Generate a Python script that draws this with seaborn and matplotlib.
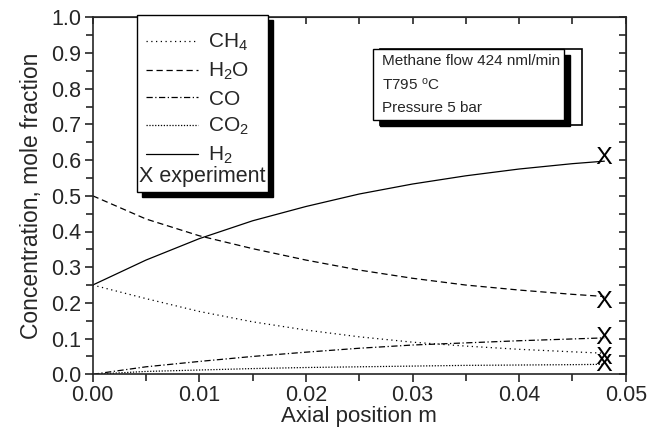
import matplotlib
matplotlib.use("Agg")
import matplotlib.pyplot as plt
import seaborn as sns
import pandas as pd
from matplotlib.patches import Rectangle
from matplotlib.ticker import MultipleLocator

# Values
position = [0.0, 0.005, 0.01, 0.015, 0.02, 0.025, 0.03, 0.035, 0.04, 0.045, 0.048]
ch4 = [0.25, 0.212, 0.176, 0.147, 0.124, 0.105, 0.090, 0.079, 0.070, 0.063, 0.059]
h2o = [0.50, 0.435, 0.388, 0.352, 0.320, 0.292, 0.269, 0.250, 0.236, 0.224, 0.218]
co = [0.0, 0.021, 0.036, 0.050, 0.062, 0.073, 0.082, 0.088, 0.094, 0.099, 0.102]
co2 = [0.0, 0.008, 0.012, 0.016, 0.019, 0.021, 0.023, 0.025, 0.026, 0.027, 0.028]
h2 = [0.25, 0.320, 0.380, 0.430, 0.470, 0.505, 0.533, 0.556, 0.575, 0.590, 0.597]
species = ["CH4", "H2O", "CO", "CO2", "H2"]
labels = ["CH$_4$", "H$_2$O", "CO", "CO$_2$", "H$_2$"]
exp_position = [0.048, 0.048, 0.048, 0.048, 0.048]
exp_value = [0.054, 0.21, 0.11, 0.035, 0.614]

sns.set_style("ticks")
plt.rcParams["font.family"] = ["Liberation Sans", "DejaVu Sans"]
plt.rcParams["mathtext.fontset"] = "custom"
plt.rcParams["mathtext.rm"] = "Liberation Sans"
plt.rcParams["mathtext.it"] = "Liberation Sans"

W, H = 661, 430
def px(x, y):
    return (x / W, 1 - y / H)

# long format for seaborn
series = {"CH4": ch4, "H2O": h2o, "CO": co, "CO2": co2, "H2": h2}
df = pd.concat([pd.DataFrame({"x": position, "y": v, "species": k}) for k, v in series.items()])
dashes = {"CH4": (1, 2.8), "H2O": (5, 3), "CO": (5, 2, 1, 2), "CO2": (1, 1.3), "H2": ""}

fig = plt.figure(figsize=(6.61, 4.30), dpi=100)
ax = fig.add_axes([92.7 / W, 1 - 374.3 / H, 533 / W, 357 / H])

sns.lineplot(data=df, x="x", y="y", style="species", dashes=dashes, color="black",
             linewidth=0.9, ax=ax, legend=False, style_order=species)
sns.scatterplot(x=exp_position, y=exp_value, marker=r"$\mathrm{X}$", s=150, color="black",
                linewidth=0, ax=ax, zorder=6)

ax.set_xlim(0, 0.05)
ax.set_ylim(0, 1.0)
ax.xaxis.set_major_locator(MultipleLocator(0.01))
ax.xaxis.set_minor_locator(MultipleLocator(0.005))
ax.yaxis.set_major_locator(MultipleLocator(0.1))
ax.yaxis.set_minor_locator(MultipleLocator(0.05))
ax.xaxis.set_major_formatter(plt.FormatStrFormatter("%.2f"))
ax.yaxis.set_major_formatter(plt.FormatStrFormatter("%.1f"))
ax.tick_params(which="both", direction="out", top=False, right=False, width=1.2, labelsize=15.5, pad=2)
ax.tick_params(which="major", length=6)
ax.tick_params(which="minor", length=5)
for s in ax.spines.values():
    s.set_linewidth(1.2)
    s.set_visible(True)

# inward ticks on top and right
ax_top = ax.secondary_xaxis("top")
ax_top.xaxis.set_major_locator(MultipleLocator(0.01))
ax_top.xaxis.set_minor_locator(MultipleLocator(0.005))
ax_top.tick_params(which="both", direction="in", length=5, width=1.2, labeltop=False)
ax_right = ax.secondary_yaxis("right")
ax_right.yaxis.set_major_locator(MultipleLocator(0.1))
ax_right.yaxis.set_minor_locator(MultipleLocator(0.05))
ax_right.tick_params(which="both", direction="in", length=5, width=1.2, labelright=False)

ax.set_xlabel("Axial position m", fontsize=16, labelpad=0)
ax.set_ylabel("Concentration, mole fraction", fontsize=16.5, labelpad=6)

# legend with hand-drawn frame and shadow
handles = ax.get_lines()[:5]
leg = ax.legend(handles, labels, loc="upper left", bbox_to_anchor=px(146, 32),
                bbox_transform=fig.transFigure, frameon=False, fontsize=15,
                borderpad=0, borderaxespad=0, handlelength=2.5, handletextpad=0.5,
                labelspacing=0.36)
leg.set_zorder(7)
ax.add_patch(Rectangle(px(142, 197), 131 / W, 177 / H, transform=fig.transFigure,
                       facecolor="black", edgecolor="black", clip_on=False, zorder=4))
ax.add_patch(Rectangle(px(137, 192), 131 / W, 177 / H, transform=fig.transFigure,
                       facecolor="white", edgecolor="black", linewidth=1, clip_on=False, zorder=5))
ax.text(*px(139, 177), "X experiment", transform=fig.transFigure, fontsize=15.5,
        va="center", ha="left", zorder=7)

# condition box
ax.add_patch(Rectangle(px(380, 125), 202 / W, 76 / H, transform=fig.transFigure,
                       facecolor="white", edgecolor="black", linewidth=1.2, clip_on=False, zorder=4))
ax.add_patch(Rectangle(px(380, 126), 190 / W, 71 / H, transform=fig.transFigure,
                       facecolor="black", edgecolor="black", clip_on=False, zorder=4.5))
ax.add_patch(Rectangle(px(373, 120), 191 / W, 71 / H, transform=fig.transFigure,
                       facecolor="white", edgecolor="black", linewidth=1, clip_on=False, zorder=5))
for txt, yy in [("Methane flow 424 nml/min", 61), ("T795 $^{o}$C", 85), ("Pressure 5 bar", 108)]:
    ax.text(*px(382, yy), txt, transform=fig.transFigure, fontsize=11,
            va="center", ha="left", zorder=7)

plt.savefig("out.png", dpi=100)
